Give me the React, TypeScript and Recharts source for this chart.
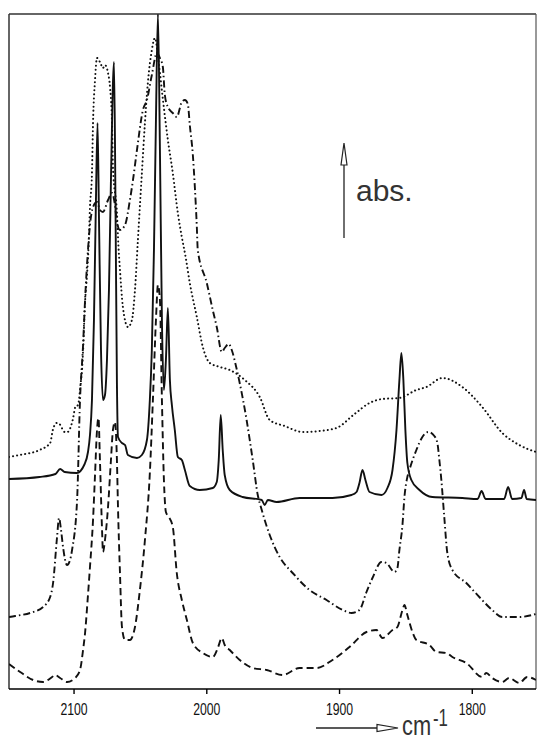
import React from 'react';
import { LineChart, Line, XAxis, YAxis, ReferenceLine } from 'recharts';

// IR spectra, wavenumber (cm-1) vs absorbance (arbitrary units, traces offset)
const xTicks = [2100, 2000, 1900, 1800];

const dottedTrace: [number, number][] = [
  [2149, 232], [2141, 234], [2126, 239], [2118, 246], [2116, 259], [2113, 266], [2111, 265],
  [2107, 257], [2105, 257], [2101, 269], [2099, 282], [2097, 284], [2095, 306], [2094, 319],
  [2093, 344], [2092, 379], [2090, 419], [2089, 444], [2088, 482], [2086.5, 516], [2085.7, 566],
  [2084.2, 609], [2082.7, 631], [2080.5, 627], [2078.2, 621], [2076.7, 624], [2074.4, 616],
  [2072.9, 602], [2071.4, 566], [2070.7, 522], [2067.7, 476], [2066.6, 444], [2065.4, 419],
  [2063.2, 382], [2059.4, 362], [2056.4, 369], [2054.1, 399], [2051.9, 449], [2048.9, 516],
  [2046.6, 566], [2044.4, 606], [2041.4, 639], [2039.1, 651], [2036.1, 625], [2033.1, 590],
  [2029.3, 549], [2025.6, 516], [2021.8, 476], [2018.8, 452], [2015.8, 431], [2012.8, 406],
  [2007.5, 372], [2003, 342], [1997.7, 326], [1990.2, 322], [1982.7, 319], [1971.4, 309],
  [1960.1, 292], [1952.6, 269], [1941.4, 263], [1927.8, 257], [1915, 258], [1902.3, 261],
  [1888.7, 275], [1877.4, 286], [1867.7, 290], [1854.9, 291], [1842.1, 299], [1834.6, 302],
  [1822.5, 311], [1807.5, 302], [1792.5, 282], [1777.4, 256], [1764.6, 244], [1752, 237],
];

const solidTrace: [number, number][] = [
  [2149, 210], [2126, 212], [2114, 215], [2110.5, 220], [2107, 217], [2098, 216], [2092, 225],
  [2089.5, 237], [2088, 254], [2086.5, 289], [2085, 369], [2083.5, 489], [2082.3, 566],
  [2081.2, 469], [2079.7, 339], [2078.2, 289], [2076.7, 294], [2075.2, 329], [2073.7, 399],
  [2072.2, 509], [2069.9, 627], [2068.8, 489], [2067.7, 306], [2066.9, 252], [2063.9, 246],
  [2061.6, 244], [2059.4, 234], [2052.6, 231], [2048.9, 234], [2045.1, 249], [2042.9, 289],
  [2041.4, 339], [2039.8, 439], [2038.3, 569], [2036.8, 675], [2035.3, 539], [2033.8, 369],
  [2032.3, 299], [2030.8, 329], [2029.3, 381], [2027.8, 309], [2026.3, 284], [2024.1, 259],
  [2021.8, 232], [2018.8, 229], [2016.5, 219], [2012.8, 203], [2005.3, 199], [1995.5, 201],
  [1992.5, 207], [1991, 229], [1989.5, 274], [1988, 239], [1986.5, 214], [1982.7, 199],
  [1973, 192], [1958.6, 189], [1956.4, 184], [1954, 189], [1947.4, 187], [1930.1, 191],
  [1905.3, 191], [1891, 194], [1887.2, 197], [1885, 206], [1882.7, 219], [1880.5, 209],
  [1877.4, 197], [1868.4, 194], [1863.9, 201], [1860.1, 219], [1857.1, 259], [1854.9, 309],
  [1853.4, 336], [1851.9, 309], [1850.4, 259], [1848.9, 226], [1845.9, 209], [1839.8, 199],
  [1830.1, 192], [1807.5, 191], [1796, 190], [1793, 198], [1790, 190], [1776, 190],
  [1773, 202], [1770, 190], [1763, 191], [1761, 199], [1759, 190], [1752, 189],
];

const dashDotTrace: [number, number][] = [
  [2149, 72], [2144.4, 73], [2133.1, 76], [2123.3, 82], [2118, 92], [2115.8, 106],
  [2112.8, 152], [2111.3, 171], [2109.8, 159], [2108.3, 142], [2105.3, 124], [2103, 129],
  [2101.5, 139], [2097.7, 189], [2095.5, 289], [2093.2, 344], [2091.7, 389], [2089.5, 439],
  [2088, 464], [2085.7, 482], [2082.7, 487], [2080.5, 479], [2078.2, 477], [2074.4, 489],
  [2071.4, 496], [2069.2, 484], [2067.7, 467], [2065.4, 459], [2061.6, 464], [2057.9, 489],
  [2055.6, 509], [2052.6, 539], [2048.1, 579], [2045.1, 589], [2041.4, 614], [2037.6, 636],
  [2035.3, 631], [2033.1, 622], [2031.6, 594], [2029.3, 582], [2025.6, 576], [2022.6, 572],
  [2018.8, 587], [2016.5, 589], [2014.3, 585], [2012.8, 564], [2010.5, 534], [2009, 502],
  [2007.5, 462], [2006.8, 439], [2000, 406], [1995.5, 379], [1992.5, 362], [1988.7, 337],
  [1986.5, 341], [1983.5, 345], [1981.2, 339], [1978.2, 324], [1975.2, 306], [1970, 269],
  [1965.4, 229], [1961.6, 194], [1958.6, 179], [1952.6, 154], [1945.1, 132], [1935.3, 116],
  [1922.6, 99], [1909.8, 89], [1897.7, 79], [1891, 76], [1885, 79], [1879.7, 97],
  [1875.2, 111], [1868.4, 127], [1864.7, 126], [1858.6, 117], [1856.4, 121], [1854.9, 139],
  [1852.6, 164], [1851.1, 192], [1848.9, 212], [1847.4, 219], [1842.1, 239], [1837.6, 252],
  [1833.1, 257], [1828.6, 253], [1826.3, 246], [1824.8, 229], [1823.3, 209], [1821.1, 172],
  [1818.8, 136], [1815, 119], [1804.5, 106], [1794.7, 92], [1785, 79], [1777.4, 72],
  [1764.6, 72], [1752, 75],
];

const dashedTrace: [number, number][] = [
  [2149, 25], [2140.6, 17], [2130.8, 9], [2123.3, 7], [2116.5, 12], [2114.3, 14], [2110.5, 11],
  [2105.3, 7], [2099.2, 11], [2095.5, 19], [2093.2, 39], [2091.7, 56], [2089.5, 94], [2088, 122],
  [2085.7, 169], [2084.2, 214], [2082.7, 259], [2081.6, 271], [2080.5, 229], [2078.9, 159],
  [2078.2, 137], [2076.7, 149], [2074.4, 182], [2072.2, 229], [2070.7, 259], [2069.2, 267],
  [2067.7, 229], [2066.9, 182], [2065.4, 116], [2063.9, 62], [2061.6, 49], [2057.9, 49],
  [2054.1, 62], [2050.4, 99], [2046.6, 149], [2042.9, 216], [2040.6, 289], [2038.3, 369],
  [2036.8, 404], [2035.3, 389], [2033.8, 289], [2032.3, 209], [2030.8, 177], [2028.6, 172],
  [2025.6, 162], [2022.6, 116], [2018.8, 89], [2015, 69], [2010.5, 46], [2003, 36],
  [1995.5, 32], [1991.7, 41], [1988.7, 51], [1986.5, 44], [1982.7, 39], [1975.2, 29],
  [1965.4, 21], [1954.9, 19], [1942.9, 14], [1930.1, 21], [1917.3, 21], [1905.3, 29],
  [1892.5, 42], [1879.7, 57], [1872.2, 59], [1867.7, 51], [1860.1, 59], [1856.4, 62],
  [1852.6, 79], [1851.1, 84], [1848.9, 74], [1845.1, 57], [1842.1, 49], [1832.3, 44],
  [1827, 37], [1819.5, 36], [1815, 32], [1804.5, 26], [1792.5, 12], [1789.5, 16], [1785, 11],
  [1777.4, 7], [1772.2, 11], [1764.6, 6], [1758.6, 12], [1752, 9],
];

const toRows = (t: [number, number][]) => t.map(([wn, a]) => ({ wn, a }));

const INK = '#111';
const font = "'Liberation Sans', Arial, sans-serif";

const NarrowTick = (props: any) => {
  const { x, y, payload } = props;
  return (
    <g transform={`translate(${x},${y})`}>
      <text transform="scale(0.72,1)" textAnchor="middle" dy="0.71em" fontFamily={font} fontSize={17} fill={INK}>
        {payload.value}
      </text>
    </g>
  );
};

export default function App() {
  return (
    <div style={{ position: 'absolute', left: 0, top: 0, width: 537, height: 742, background: '#fff', overflow: 'hidden' }}>
      <LineChart width={537} height={742} margin={{ top: 14, left: 9, right: 1, bottom: 23 }}>
        <XAxis
          dataKey="wn"
          type="number"
          domain={[1752, 2149]}
          reversed
          allowDataOverflow
          ticks={xTicks}
          height={30}
          tickSize={5}
          tickMargin={9}
          axisLine={{ stroke: '#000', strokeWidth: 1.6 }}
          tickLine={{ stroke: '#000', strokeWidth: 1.4 }}
          tick={<NarrowTick />}
        />
        <YAxis type="number" domain={[0, 675]} allowDataOverflow hide />
        <ReferenceLine y={675} stroke="#333" strokeWidth={1.5} ifOverflow="visible" />
        <ReferenceLine x={2149} stroke="#333" strokeWidth={1.5} ifOverflow="visible" />
        <ReferenceLine x={1752} stroke="#555" strokeWidth={1.2} ifOverflow="visible" />
        <Line data={toRows(dottedTrace)} dataKey="a" name="dotted" type="monotone" dot={false}
          isAnimationActive={false} stroke={INK} strokeWidth={2} strokeDasharray="0.1 4" strokeLinecap="round" />
        <Line data={toRows(dashDotTrace)} dataKey="a" name="dash-dot" type="monotone" dot={false}
          isAnimationActive={false} stroke={INK} strokeWidth={1.9} strokeDasharray="7 3 1.5 3" />
        <Line data={toRows(dashedTrace)} dataKey="a" name="dashed" type="monotone" dot={false}
          isAnimationActive={false} stroke={INK} strokeWidth={1.9} strokeDasharray="7 4" />
        <Line data={toRows(solidTrace)} dataKey="a" name="solid" type="monotone" dot={false}
          isAnimationActive={false} stroke={INK} strokeWidth={1.9} />
      </LineChart>
      <svg width={537} height={742} style={{ position: 'absolute', left: 0, top: 0, pointerEvents: 'none' }}>
        <line x1={344} y1={238} x2={344} y2={162} stroke="#222" strokeWidth={1.3} />
        <polygon points="344,143 341,165 347,165" fill="#fff" stroke="#222" strokeWidth={1.2} />
        <text x={356} y={201} fontFamily={font} fontSize={30} fill="#333">abs.</text>
        <line x1={316} y1={728} x2={378} y2={728} stroke="#222" strokeWidth={1.3} />
        <polygon points="398,728 377,724.5 377,731.5" fill="#fff" stroke="#222" strokeWidth={1.2} />
        <text transform="translate(402,735) scale(0.78,1)" fontFamily={font} fontSize={28} fill="#333">cm</text>
        <text transform="translate(433,726) scale(0.7,1)" fontFamily={font} fontSize={24} fill="#333">-1</text>
      </svg>
    </div>
  );
}
